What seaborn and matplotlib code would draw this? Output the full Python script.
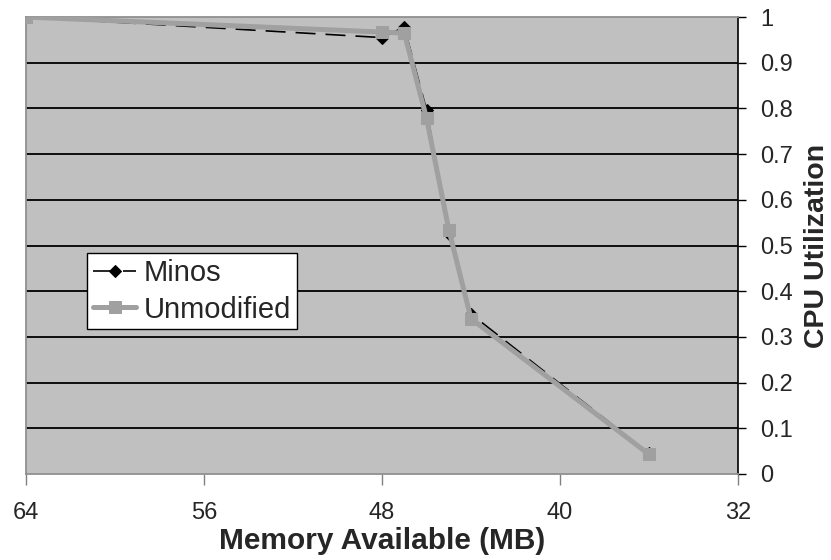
import matplotlib
matplotlib.use("Agg")
import matplotlib.pyplot as plt
import seaborn as sns
import pandas as pd
from matplotlib.ticker import FixedLocator, FuncFormatter

# ---- data ----
memory_mb = [64, 48, 47, 46, 45, 44, 36]
minos = [1.0, 0.955, 0.978, 0.797, 0.525, 0.350, 0.045]
unmodified = [1.0, 0.967, 0.965, 0.779, 0.535, 0.340, 0.043]
x_ticks = [64, 56, 48, 40, 32]
y_ticks = [0, 0.1, 0.2, 0.3, 0.4, 0.5, 0.6, 0.7, 0.8, 0.9, 1]
series_names = ["Minos", "Unmodified"]
x_label = "Memory Available (MB)"
y_label = "CPU Utilization"

sns.set_style("white")
plt.rcParams["font.family"] = ["Liberation Sans", "DejaVu Sans"]

fig = plt.figure(figsize=(8.31, 5.60), dpi=100)
ax = fig.add_axes([26 / 831, 1 - 474 / 560, (738 - 26) / 831, (474 - 17) / 560])
ax.set_facecolor("#c0c0c0")

df_m = pd.DataFrame({"x": memory_mb, "y": minos})
df_u = pd.DataFrame({"x": memory_mb, "y": unmodified})

sns.lineplot(data=df_m, x="x", y="y", ax=ax, sort=False, color="black",
             linewidth=1.2, marker="D", markersize=6, markeredgecolor="black",
             dashes=False, label=series_names[0], zorder=3)
ax.lines[-1].set_dashes([12, 6])
sns.lineplot(data=df_u, x="x", y="y", ax=ax, sort=False, color="#a0a0a0",
             linewidth=3.6, marker="s", markersize=8, markeredgecolor="#a0a0a0",
             label=series_names[1], zorder=4)

ax.set_xlim(64, 32)
ax.set_ylim(0, 1)
ax.xaxis.set_major_locator(FixedLocator(x_ticks))
ax.yaxis.set_major_locator(FixedLocator(y_ticks))
ax.yaxis.set_major_formatter(FuncFormatter(lambda v, p: f"{v:g}"))

for v in y_ticks[1:-1]:
    ax.axhline(v, color="black", linewidth=1.3, zorder=1)

ax.yaxis.tick_right()
ax.yaxis.set_label_position("right")
ax.tick_params(axis="y", which="both", direction="out", length=6, width=1,
               color="black", labelsize=17, pad=10, left=False, right=True)
ax.tick_params(axis="x", direction="out", length=8, width=1, color="#808080",
               labelsize=17, pad=12, bottom=True)

for side in ["left", "bottom", "top"]:
    ax.spines[side].set_color("#909090")
    ax.spines[side].set_linewidth(1.3)
ax.spines["right"].set_color("black")
ax.spines["right"].set_linewidth(1.2)

ax.set_xlabel(x_label, fontsize=21.5, fontweight="bold", labelpad=2)
ax.set_ylabel(y_label, fontsize=20.5, fontweight="bold", labelpad=8)

leg = ax.legend(loc="upper right", bbox_to_anchor=(297 / 831, 1 - 253 / 560),
                bbox_transform=fig.transFigure, borderaxespad=0, frameon=True,
                fancybox=False, shadow=False, fontsize=21, handlelength=1.5,
                handletextpad=0.25, borderpad=0.2, labelspacing=0.3)
leg.get_frame().set_edgecolor("black")
leg.get_frame().set_linewidth(1.0)
leg.get_frame().set_facecolor("white")
leg.get_frame().set_alpha(1)

fig.savefig("out.png", dpi=100)
